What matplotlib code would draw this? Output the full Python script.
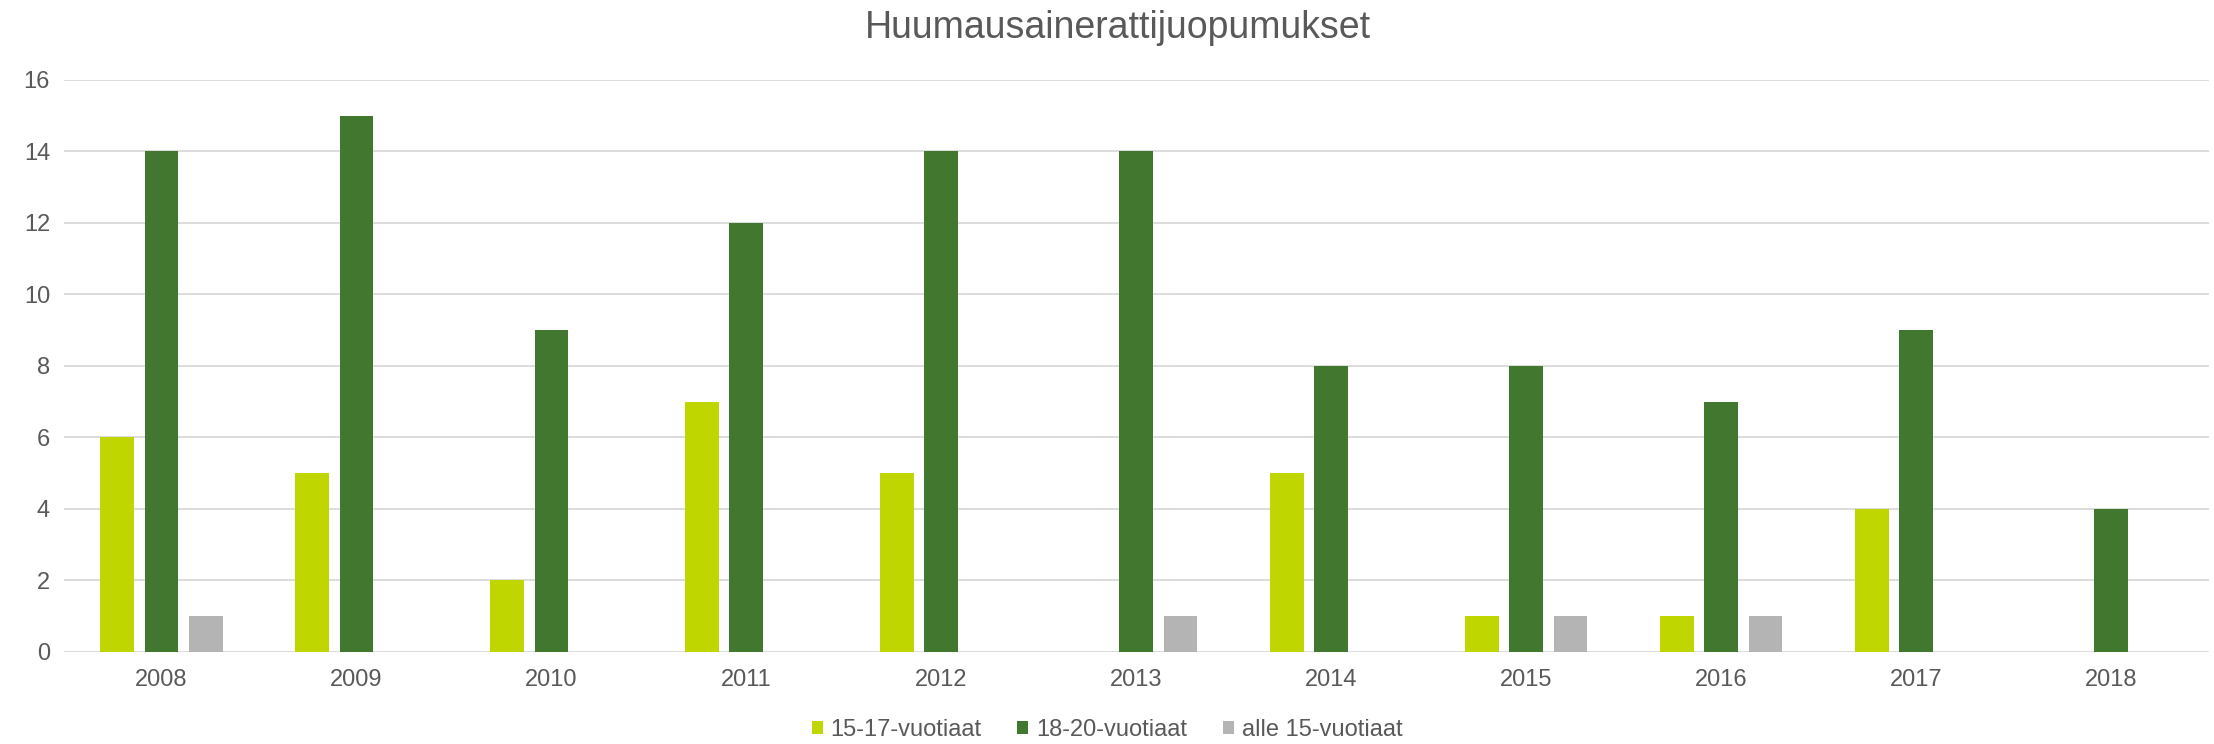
import numpy as np
import matplotlib
matplotlib.use("Agg")
import matplotlib.pyplot as plt

plt.rcParams['font.family'] = ['Liberation Sans', 'DejaVu Sans']

years = ['2008', '2009', '2010', '2011', '2012', '2013', '2014', '2015', '2016', '2017', '2018']
age_15_17 = [6, 5, 2, 7, 5, 0, 5, 1, 1, 4, 0]
age_18_20 = [14, 15, 9, 12, 14, 14, 8, 8, 7, 9, 4]
under_15 = [1, 0, 0, 0, 0, 1, 0, 1, 1, 0, 0]

series = [
    ('15-17-vuotiaat', age_15_17, '#BFD600'),
    ('18-20-vuotiaat', age_18_20, '#427730'),
    ('alle 15-vuotiaat', under_15, '#B4B4B4'),
]

text_col = '#595959'

fig = plt.figure(figsize=(22.14, 7.44), dpi=100)
ax = fig.add_axes([0.0289, 0.1237, 0.9688, 0.7688])

x = np.arange(len(years))
step = 0.226
width = 0.174
for i, (name, vals, col) in enumerate(series):
    ax.bar(x + (i - 1) * step, vals, width, color=col, label=name, zorder=3)

ax.set_xlim(-0.5, len(years) - 0.5)
ax.set_ylim(0, 16)
ax.set_yticks(range(0, 17, 2))
ax.set_xticks(x)
ax.set_xticklabels(years)
ax.grid(axis='y', color='#D9D9D9', linewidth=1.3, zorder=0)
for s in ax.spines.values():
    s.set_visible(False)
ax.tick_params(axis='both', length=0, labelsize=17, colors=text_col)
ax.tick_params(axis='x', pad=12)
ax.tick_params(axis='y', pad=10)

fig.text(0.505, 0.962, 'Huumausainerattijuopumukset', ha='center', va='center',
         fontsize=27, color=text_col)

leg = fig.legend(loc='center', bbox_to_anchor=(0.5, 0.019), ncol=3, frameon=False,
                 fontsize=17, handlelength=0.47, handleheight=0.47, handletextpad=0.34,
                 columnspacing=1.5, borderpad=0.1)
for t in leg.get_texts():
    t.set_color(text_col)

fig.savefig('out.png', dpi=100)
